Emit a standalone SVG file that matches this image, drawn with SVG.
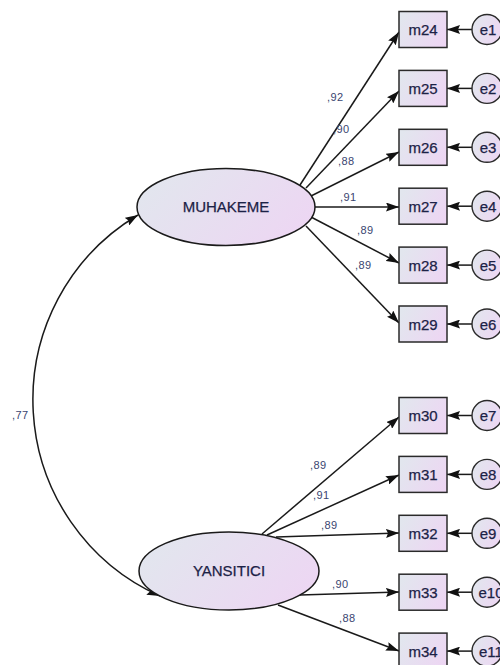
<svg xmlns="http://www.w3.org/2000/svg" width="500" height="665" viewBox="0 0 500 665">
<defs>
<linearGradient id="g" x1="0" y1="0.3" x2="1" y2="0.7">
<stop offset="0" stop-color="#e2e6ee"/>
<stop offset="1" stop-color="#edd6f3"/>
</linearGradient>
<marker id="ah" viewBox="0 0 13 9" refX="13" refY="4.5" markerWidth="13" markerHeight="9" markerUnits="userSpaceOnUse" orient="auto-start-reverse">
<path d="M0,0 L13,4.5 L0,9 L2,4.5 z" fill="#111"/>
</marker>
<style>
.ln{stroke:#1a1a1a;stroke-width:1.5;fill:none;marker-end:url(#ah)}
.bx{fill:url(#g);stroke:#2a2a2a;stroke-width:1.5}
.ci{fill:url(#g);stroke:#2a2a2a;stroke-width:1.4}
.el{fill:url(#g);stroke:#1a1a1a;stroke-width:1.5}
.t{font-family:"Liberation Sans",Arial,sans-serif;font-size:15px;fill:#1c2246;text-anchor:middle;stroke:#1c2246;stroke-width:0.25}
.lt{font-family:"Liberation Sans",Arial,sans-serif;font-size:11px;fill:#3a4570;letter-spacing:0.4px}
</style>
</defs>
<g id="connectors">
<path class="ln" d="M300,185 L399,32"/>
<path class="ln" d="M306,188 L399,91"/>
<path class="ln" d="M311,196 L399,152"/>
<path class="ln" d="M314,207 L399,207"/>
<path class="ln" d="M311,217 L399,263"/>
<path class="ln" d="M306,226 L399,323"/>
<path class="ln" d="M262,534 L399,417"/>
<path class="ln" d="M267,535 L399,475"/>
<path class="ln" d="M276,537 L399,533"/>
<path class="ln" d="M300,595 L399,592"/>
<path class="ln" d="M278,605 L399,651"/>
<path class="ln" d="M472,29.5 L447,29.5"/>
<path class="ln" d="M472,88.4 L447,88.4"/>
<path class="ln" d="M472,147.3 L447,147.3"/>
<path class="ln" d="M472,206.2 L447,206.2"/>
<path class="ln" d="M472,265.1 L447,265.1"/>
<path class="ln" d="M472,324 L447,324"/>
<path class="ln" d="M472,415.5 L447,415.5"/>
<path class="ln" d="M472,474.4 L447,474.4"/>
<path class="ln" d="M472,533.3 L447,533.3"/>
<path class="ln" d="M472,592.2 L447,592.2"/>
<path class="ln" d="M472,651.1 L447,651.1"/>
<path class="ln" style="marker-start:url(#ah)" d="M138,215 A215,215 0 0,0 160,596"/>
</g>
<g id="labels">
<text class="lt" x="327" y="101">,92</text>
<text class="lt" x="333" y="133">,90</text>
<text class="lt" x="338" y="165">,88</text>
<text class="lt" x="340" y="201">,91</text>
<text class="lt" x="357" y="234">,89</text>
<text class="lt" x="355" y="269">,89</text>
<text class="lt" x="310" y="469">,89</text>
<text class="lt" x="313" y="499">,91</text>
<text class="lt" x="321" y="529">,89</text>
<text class="lt" x="332" y="588">,90</text>
<text class="lt" x="339" y="622">,88</text>
<text class="lt" x="12" y="419">,77</text>
</g>
<g id="MUHAKEME"><ellipse class="el" cx="226" cy="207" rx="89" ry="38.5"/><text class="t" x="226" y="212">MUHAKEME</text></g>
<g id="YANSITICI"><ellipse class="el" cx="229" cy="571" rx="90" ry="39"/><text class="t" x="229" y="576">YANSITICI</text></g>
<g id="m24"><rect class="bx" x="399" y="11.5" width="48" height="36"/><text class="t" x="423" y="35">m24</text></g>
<g id="m25"><rect class="bx" x="399" y="70.4" width="48" height="36"/><text class="t" x="423" y="94">m25</text></g>
<g id="m26"><rect class="bx" x="399" y="129.3" width="48" height="36"/><text class="t" x="423" y="153">m26</text></g>
<g id="m27"><rect class="bx" x="399" y="188.2" width="48" height="36"/><text class="t" x="423" y="211.7">m27</text></g>
<g id="m28"><rect class="bx" x="399" y="247.1" width="48" height="36"/><text class="t" x="423" y="270.6">m28</text></g>
<g id="m29"><rect class="bx" x="399" y="306" width="48" height="36"/><text class="t" x="423" y="329.5">m29</text></g>
<g id="m30"><rect class="bx" x="399" y="397.5" width="48" height="36"/><text class="t" x="423" y="421">m30</text></g>
<g id="m31"><rect class="bx" x="399" y="456.4" width="48" height="36"/><text class="t" x="423" y="480">m31</text></g>
<g id="m32"><rect class="bx" x="399" y="515.3" width="48" height="36"/><text class="t" x="423" y="539">m32</text></g>
<g id="m33"><rect class="bx" x="399" y="574.2" width="48" height="36"/><text class="t" x="423" y="597.7">m33</text></g>
<g id="m34"><rect class="bx" x="399" y="633.1" width="48" height="36"/><text class="t" x="423" y="656.6">m34</text></g>
<g id="e1"><circle class="ci" cx="487" cy="29.5" r="15"/><text class="t" x="488" y="35">e1</text></g>
<g id="e2"><circle class="ci" cx="487" cy="88.4" r="15"/><text class="t" x="488" y="94">e2</text></g>
<g id="e3"><circle class="ci" cx="487" cy="147.3" r="15"/><text class="t" x="488" y="153">e3</text></g>
<g id="e4"><circle class="ci" cx="487" cy="206.2" r="15"/><text class="t" x="488" y="211.7">e4</text></g>
<g id="e5"><circle class="ci" cx="487" cy="265.1" r="15"/><text class="t" x="488" y="270.6">e5</text></g>
<g id="e6"><circle class="ci" cx="487" cy="324" r="15"/><text class="t" x="488" y="329.5">e6</text></g>
<g id="e7"><circle class="ci" cx="487" cy="415.5" r="15"/><text class="t" x="488" y="421">e7</text></g>
<g id="e8"><circle class="ci" cx="487" cy="474.4" r="15"/><text class="t" x="488" y="480">e8</text></g>
<g id="e9"><circle class="ci" cx="487" cy="533.3" r="15"/><text class="t" x="488" y="539">e9</text></g>
<g id="e10"><circle class="ci" cx="487" cy="592.2" r="15"/><text class="t" x="491" y="597.7">e10</text></g>
<g id="e11"><circle class="ci" cx="487" cy="651.1" r="15"/><text class="t" x="491" y="656.6">e11</text></g>
</svg>
